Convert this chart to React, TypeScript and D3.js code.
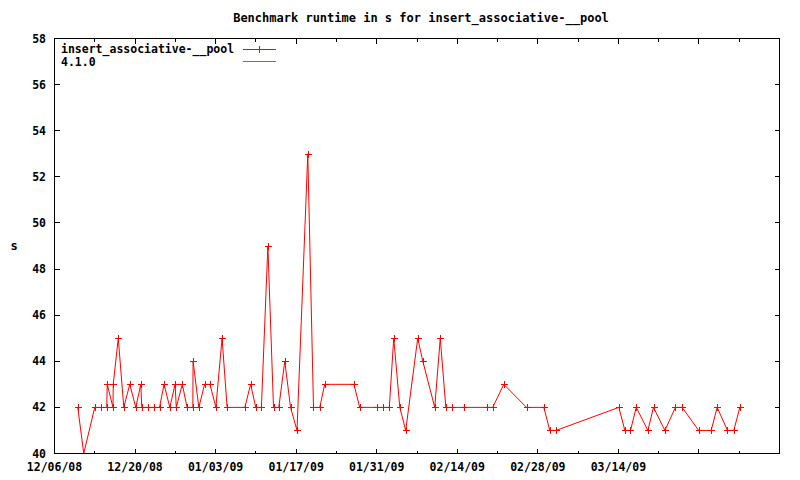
import React from "react";
import * as d3 from "d3";

const TITLE = "Benchmark runtime in s for insert_associative-__pool";
const SERIES_NAME = "insert_associative-__pool";
const REF_NAME = "4.1.0";
const Y_LABEL = "s";

const runDates = [
  "2008-12-10T01:00", "2008-12-11T02:00", "2008-12-13T00:00", "2008-12-14T01:00",
  "2008-12-15T02:00", "2008-12-15T04:00", "2008-12-16T04:00", "2008-12-16T05:00",
  "2008-12-17T02:00", "2008-12-18T01:00", "2008-12-19T02:00", "2008-12-20T03:00",
  "2008-12-21T00:00", "2008-12-21T04:00", "2008-12-22T04:00", "2008-12-23T05:00",
  "2008-12-24T06:00", "2008-12-25T01:00", "2008-12-26T01:00", "2008-12-26T23:00",
  "2008-12-27T04:00", "2008-12-28T05:00", "2008-12-29T01:00", "2008-12-30T01:00",
  "2008-12-30T02:00", "2008-12-31T02:00", "2009-01-01T02:00", "2009-01-02T00:30",
  "2009-01-03T01:00", "2009-01-04T03:00", "2009-01-05T00:00", "2009-01-08T02:00",
  "2009-01-09T02:00", "2009-01-09T23:30", "2009-01-10T23:00", "2009-01-12T02:00",
  "2009-01-13T01:30", "2009-01-13T23:30", "2009-01-15T00:30", "2009-01-16T00:30",
  "2009-01-17T03:30", "2009-01-19T00:30", "2009-01-20T00:15", "2009-01-21T02:30",
  "2009-01-21T23:00", "2009-01-27T01:00", "2009-01-28T01:00", "2009-01-31T01:00",
  "2009-02-01T01:30", "2009-02-02T04:30", "2009-02-02T23:00", "2009-02-04T00:15",
  "2009-02-05T01:00", "2009-02-07T03:00", "2009-02-08T00:15", "2009-02-10T02:00",
  "2009-02-11T01:00", "2009-02-12T00:15", "2009-02-13T01:00", "2009-02-15T05:00",
  "2009-02-19T05:00", "2009-02-20T04:00", "2009-02-22T02:00", "2009-02-26T00:45",
  "2009-03-01T01:00", "2009-03-02T02:00", "2009-03-03T04:00", "2009-03-14T02:00",
  "2009-03-15T03:00", "2009-03-16T02:30", "2009-03-17T02:30", "2009-03-19T03:00",
  "2009-03-20T02:30", "2009-03-22T02:00", "2009-03-23T22:00", "2009-03-25T02:00",
  "2009-03-27T23:00", "2009-03-30T03:00", "2009-03-31T04:00", "2009-04-01T23:00",
  "2009-04-03T01:30", "2009-04-04T02:30",
];

const runtimes = [
  42, 40, 42, 42,
  42, 43, 42, 43,
  45, 42, 43, 42,
  43, 42, 42, 42,
  42, 43, 42, 43,
  42, 43, 42, 42,
  44, 42, 43, 43,
  42, 45, 42, 42,
  43, 42, 42, 49,
  42, 42, 44, 42,
  41, 53, 42, 42,
  43, 43, 42, 42,
  42, 42, 45, 42,
  41, 45, 44, 42,
  45, 42, 42, 42,
  42, 42, 43, 42,
  42, 41, 41, 42,
  41, 41, 42, 41,
  42, 41, 42, 42,
  41, 41, 42, 41,
  41, 42,
];

const xDomain = ["2008-12-06", "2009-04-11"];
const xTickDates = [
  "2008-12-06", "2008-12-20", "2009-01-03", "2009-01-17",
  "2009-01-31", "2009-02-14", "2009-02-28", "2009-03-14", "2009-03-28",
];
const xTickLabels = [
  "12/06/08", "12/20/08", "01/03/09", "01/17/09",
  "01/31/09", "02/14/09", "02/28/09", "03/14/09", "",
];
const yTicks = [40, 42, 44, 46, 48, 50, 52, 54, 56, 58];

const FONT = "'DejaVu Sans Mono', monospace";

export default function App() {
  const W = 800;
  const H = 480;
  const left = 54.5;
  const right = 779.5;
  const top = 38.5;
  const bottom = 453.5;

  const parse = (s: string) => new Date(s.length > 10 ? s + ":00Z" : s + "T00:00:00Z");
  const x = d3.scaleUtc().domain(xDomain.map(parse)).range([left, right]);
  const y = d3.scaleLinear().domain([40, 58]).range([bottom, top]);

  const pts = runDates.map((d, i) => ({ t: parse(d), v: runtimes[i] }));
  const line = d3
    .line<{ t: Date; v: number }>()
    .x((d) => x(d.t))
    .y((d) => y(d.v));

  const majors = xTickDates.map(parse);
  const minors = majors.map((d) => d3.utcDay.offset(d, 7)).filter((d) => x(d) < right - 1);

  const plus = (cx: number, cy: number, key: string | number) => (
    <g key={key} stroke="#ff0000" strokeWidth={1} shapeRendering="crispEdges">
      <line x1={Math.round(cx) - 3.5} x2={Math.round(cx) + 3.5} y1={Math.round(cy) + 0.5} y2={Math.round(cy) + 0.5} />
      <line x1={Math.round(cx) + 0.5} x2={Math.round(cx) + 0.5} y1={Math.round(cy) - 3.5} y2={Math.round(cy) + 3.5} />
    </g>
  );

  // gnuplot does not draw point symbols that sit on the plot border
  const inside = pts.filter((p) => y(p.v) < bottom - 1 && y(p.v) > top + 1);

  return (
    <svg width={W} height={H} style={{ position: "absolute", left: 0, top: 0, background: "#fff" }}>
      <rect x={0} y={0} width={W} height={H} fill="#fff" />
      <text x={421} y={22} textAnchor="middle" fontFamily={FONT} fontWeight="bold" fontSize={12}>
        {TITLE}
      </text>
      <text x={14} y={250} textAnchor="middle" fontFamily={FONT} fontWeight="bold" fontSize={12}>
        {Y_LABEL}
      </text>

      {/* ticks */}
      <g stroke="#000" strokeWidth={1} shapeRendering="crispEdges">
        {yTicks.map((t) => (
          <g key={"y" + t}>
            <line x1={left} x2={left + 5} y1={y(t)} y2={y(t)} />
            <line x1={right - 5} x2={right} y1={y(t)} y2={y(t)} />
          </g>
        ))}
        {majors.map((d, i) => (
          <g key={"mx" + i}>
            <line x1={x(d)} x2={x(d)} y1={bottom} y2={bottom - 5} />
            <line x1={x(d)} x2={x(d)} y1={top} y2={top + 5} />
          </g>
        ))}
        {minors.map((d, i) => (
          <g key={"mn" + i}>
            <line x1={x(d)} x2={x(d)} y1={bottom} y2={bottom - 3} />
            <line x1={x(d)} x2={x(d)} y1={top} y2={top + 3} />
          </g>
        ))}
      </g>

      <g fontFamily={FONT} fontWeight="bold" fontSize={11.5} fill="#000">
        {yTicks.map((t) => (
          <text key={"yl" + t} x={46} y={y(t)} dy="0.35em" textAnchor="end">
            {t}
          </text>
        ))}
        {majors.map((d, i) => (
          <text key={"xl" + i} x={x(d)} y={471} textAnchor="middle">
            {xTickLabels[i]}
          </text>
        ))}
      </g>

      {/* data */}
      <path d={line(pts) || ""} fill="none" stroke="#ff0000" strokeWidth={1} />
      {inside.map((p, i) => plus(x(p.t), y(p.v), i))}

      {/* legend */}
      <g fontFamily={FONT} fontWeight="bold" fontSize={11.5} fill="#000">
        <text x={61} y={49} dy="0.35em">{SERIES_NAME}</text>
        <text x={61} y={62} dy="0.35em">{REF_NAME}</text>
      </g>
      <line x1={243} x2={276} y1={49.5} y2={49.5} stroke="#ff0000" strokeWidth={1} shapeRendering="crispEdges" />
      {plus(259, 49, "leg")}
      <line x1={243} x2={276} y1={61.5} y2={61.5} stroke="#00c000" strokeWidth={1} shapeRendering="crispEdges" />

      <rect x={left} y={top} width={right - left} height={bottom - top} fill="none" stroke="#000" strokeWidth={1} shapeRendering="crispEdges" />
    </svg>
  );
}
